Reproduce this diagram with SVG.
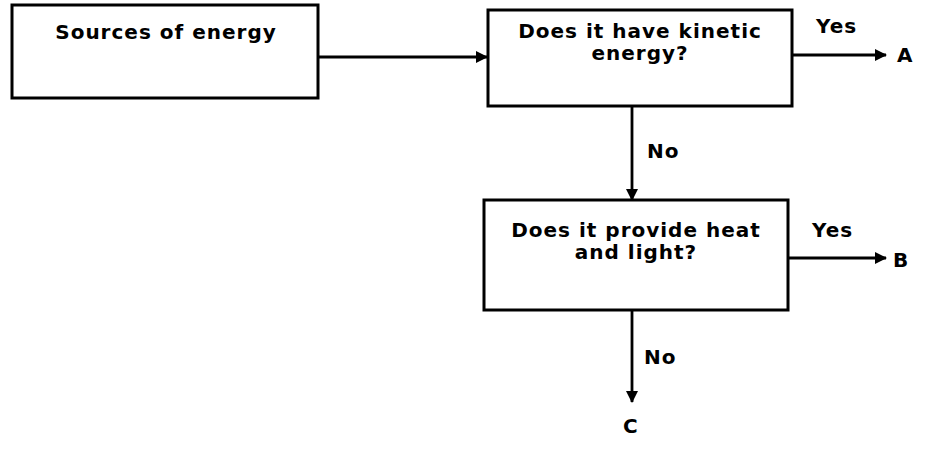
<svg xmlns="http://www.w3.org/2000/svg" width="928" height="450" viewBox="0 0 928 450">
<style>
.box{fill:#fff;stroke:#000;stroke-width:3}
.t{font-family:"DejaVu Sans","Liberation Sans",Arial,sans-serif;font-weight:bold;font-size:20px;letter-spacing:1px;fill:#000}
.c{stroke:#000;stroke-width:2.8;fill:none}
</style>
<defs>
<marker id="ah" markerWidth="12" markerHeight="12" refX="11" refY="6" orient="auto" markerUnits="userSpaceOnUse" viewBox="0 0 12 12">
<path d="M0,0 L12,6 L0,12 z" fill="#000"/>
</marker>
</defs>
<rect width="928" height="450" fill="#fff"/>
<g id="n1">
<rect class="box" x="12" y="5" width="306" height="93"/>
<text class="t" x="166" y="39" text-anchor="middle" font-size="23">Sources of energy</text>
</g>
<g id="n2">
<rect class="box" x="488" y="10" width="304" height="96"/>
<text class="t" x="640" y="38" text-anchor="middle">Does it have kinetic</text>
<text class="t" x="640" y="60" text-anchor="middle">energy?</text>
</g>
<g id="n3">
<rect class="box" x="484" y="200" width="304" height="110"/>
<text class="t" x="636" y="237" text-anchor="middle">Does it provide heat</text>
<text class="t" x="636" y="259" text-anchor="middle">and light?</text>
</g>
<g id="connectors">
<line class="c" x1="318" y1="57" x2="487" y2="57" marker-end="url(#ah)"/>
<line class="c" x1="792" y1="55" x2="886" y2="55" marker-end="url(#ah)"/>
<line class="c" x1="632" y1="106" x2="632" y2="200" marker-end="url(#ah)"/>
<line class="c" x1="788" y1="258" x2="886" y2="258" marker-end="url(#ah)"/>
<line class="c" x1="632" y1="310" x2="632" y2="402" marker-end="url(#ah)"/>
<text class="t" x="816" y="33">Yes</text>
<text class="t" x="897" y="62" font-size="23">A</text>
<text class="t" x="647" y="158">No</text>
<text class="t" x="812" y="237">Yes</text>
<text class="t" x="893" y="267" font-size="23">B</text>
<text class="t" x="644" y="364">No</text>
<text class="t" x="623" y="433" font-size="23">C</text>
</g>
</svg>
